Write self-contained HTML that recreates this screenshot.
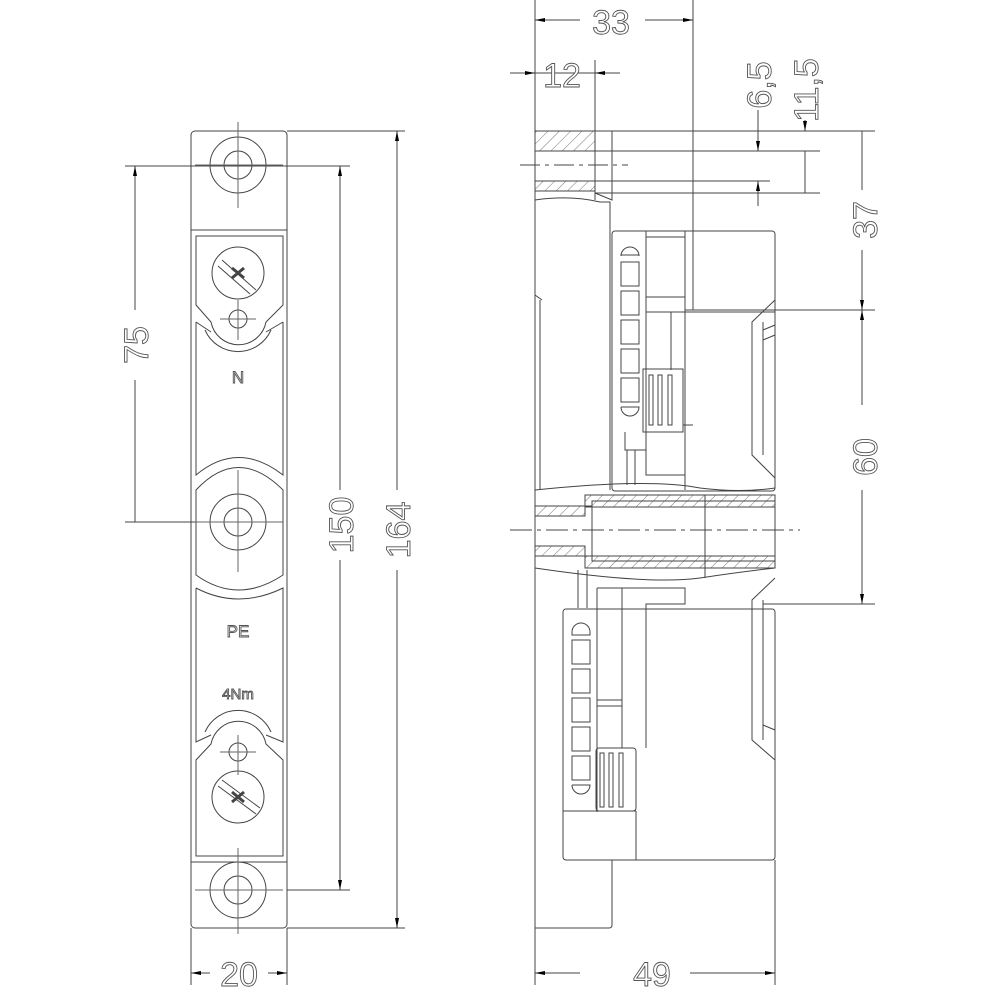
<!DOCTYPE html>
<html><head><meta charset="utf-8"><style>
html,body{margin:0;padding:0;background:#fff}
svg{display:block}
text{font-family:"Liberation Sans",sans-serif;fill:#fff;stroke:#555;stroke-width:0.9}
</style></head><body>
<svg width="1000" height="1000" viewBox="0 0 1000 1000" xmlns="http://www.w3.org/2000/svg">
<defs>
<pattern id="h" width="8" height="8" patternUnits="userSpaceOnUse" patternTransform="rotate(45)">
<line x1="0" y1="0" x2="0" y2="8" stroke="#555" stroke-width="0.8"/></pattern>
<marker id="a" markerWidth="10" markerHeight="6" refX="10" refY="3" orient="auto" markerUnits="userSpaceOnUse">
<path d="M0,1 L10,3 L0,5z" fill="#000"/></marker>
</defs>
<g fill="none" stroke="#444" stroke-width="1">
<!-- LEFT VIEW -->
<rect x="191" y="131" width="96" height="797" rx="4"/>
<line x1="191" y1="230" x2="287" y2="230"/>
<line x1="191" y1="862" x2="287" y2="862"/>
<path d="M196,236 L283,236 L283,305 L266,322 A28,28 0 0 1 211,322 L196,305 Z"/>
<path d="M205,330 A36,36 0 0 0 271,330"/>
<path d="M196,322 L211,332 M283,322 L266,332 M196,322 L196,475 Q238,440 283,475 L283,322"/>
<path d="M196,490 Q238,445 283,490 L283,575 Q238,605 196,575 Z"/>
<path d="M196,588 Q238,610 283,588 L283,742 L266,735 M196,588 L196,742 L211,735"/>
<path d="M205,732 A36,36 0 0 1 271,732"/>
<path d="M196,856 L283,856 L283,760 L266,744 A28,28 0 0 0 211,744 L196,760 Z"/>
<circle cx="238" cy="165" r="28"/><circle cx="238" cy="165" r="14"/>
<circle cx="238" cy="522" r="28"/><circle cx="238" cy="522" r="14"/>
<circle cx="238" cy="890" r="28"/><circle cx="238" cy="890" r="14"/>
<circle cx="238" cy="273" r="26"/><circle cx="238" cy="797" r="26"/>
<circle cx="238" cy="319" r="9"/><circle cx="238" cy="752" r="9"/>
<path d="M222,260 L256,290 M218,266 L250,294"/>
<path d="M218,786 L256,814 M222,780 L260,808"/>
<path d="M232,268 L244,278 M232,278 L244,268" stroke-width="3"/>
<path d="M232,792 L244,802 M232,802 L244,792" stroke-width="3"/>
<g stroke="#666">
<line x1="238" y1="122" x2="238" y2="208"/><line x1="195" y1="165" x2="283" y2="165"/>
<line x1="238" y1="470" x2="238" y2="572"/><line x1="195" y1="522" x2="283" y2="522"/>
<line x1="238" y1="848" x2="238" y2="934"/><line x1="195" y1="890" x2="283" y2="890"/>
<line x1="238" y1="300" x2="238" y2="340"/><line x1="220" y1="319" x2="256" y2="319"/>
<line x1="238" y1="735" x2="238" y2="775"/><line x1="220" y1="752" x2="256" y2="752"/>
</g>
<!-- dimension lines left -->
<line x1="125" y1="166" x2="350" y2="166"/>
<line x1="125" y1="522" x2="195" y2="522"/>
<line x1="287" y1="131" x2="405" y2="131"/>
<line x1="287" y1="928" x2="405" y2="928"/>
<line x1="287" y1="890" x2="350" y2="890"/>
<line x1="135" y1="522" x2="135" y2="380"/><line x1="135" y1="310" x2="135" y2="166" marker-end="url(#a)"/>
<line x1="340" y1="490" x2="340" y2="166" marker-end="url(#a)"/><line x1="340" y1="560" x2="340" y2="890" marker-end="url(#a)"/>
<line x1="397" y1="490" x2="397" y2="131" marker-end="url(#a)"/><line x1="397" y1="570" x2="397" y2="928" marker-end="url(#a)"/>
<line x1="191" y1="928" x2="191" y2="985"/><line x1="287" y1="928" x2="287" y2="985"/>
<line x1="210" y1="973" x2="191" y2="973" marker-end="url(#a)"/><line x1="268" y1="973" x2="287" y2="973" marker-end="url(#a)"/>

<!-- RIGHT VIEW -->
<line x1="535" y1="0" x2="535" y2="985"/>
<line x1="693" y1="0" x2="693" y2="310"/>
<line x1="595" y1="60" x2="595" y2="200"/>
<line x1="775" y1="860" x2="775" y2="985"/>
<line x1="580" y1="20" x2="535" y2="20" marker-end="url(#a)"/><line x1="645" y1="20" x2="693" y2="20" marker-end="url(#a)"/>
<line x1="510" y1="73" x2="535" y2="73" marker-end="url(#a)"/><line x1="620" y1="73" x2="595" y2="73" marker-end="url(#a)"/>
<line x1="535" y1="73" x2="595" y2="73"/>
<line x1="580" y1="973" x2="535" y2="973" marker-end="url(#a)"/><line x1="690" y1="973" x2="775" y2="973" marker-end="url(#a)"/>
<rect x="535" y="131" width="60" height="20" fill="url(#h)"/>
<rect x="535" y="181" width="60" height="10" fill="url(#h)"/>
<line x1="535" y1="131" x2="875" y2="131"/>
<line x1="535" y1="151" x2="770" y2="151"/>
<line x1="535" y1="181" x2="770" y2="181"/>
<line x1="595" y1="193" x2="770" y2="193"/>
<path d="M595,131 L612,131 L612,200 L595,193"/>
<line x1="520" y1="165" x2="628" y2="165" stroke-dasharray="20,5,4,5"/>
<line x1="758" y1="110" x2="758" y2="151" marker-end="url(#a)"/><line x1="758" y1="206" x2="758" y2="181" marker-end="url(#a)"/>
<line x1="805" y1="120" x2="805" y2="131" marker-end="url(#a)"/><line x1="805" y1="193" x2="805" y2="151"/>
<line x1="758" y1="151" x2="820" y2="151"/><line x1="758" y1="193" x2="820" y2="193"/>
<line x1="862" y1="131" x2="862" y2="190"/><line x1="862" y1="250" x2="862" y2="310" marker-end="url(#a)"/>
<line x1="862" y1="405" x2="862" y2="310" marker-end="url(#a)"/><line x1="862" y1="490" x2="862" y2="604" marker-end="url(#a)"/>
<line x1="685" y1="310" x2="875" y2="310"/><line x1="763" y1="604" x2="875" y2="604"/>
<path d="M535,200 Q570,195 600,202 L610,202 L610,490"/>
<line x1="540" y1="300" x2="540" y2="490"/>
<line x1="535" y1="295" x2="542" y2="300"/>
<rect x="612" y="231" width="163" height="260" rx="3"/>
<line x1="646" y1="231" x2="646" y2="468"/>
<line x1="685" y1="231" x2="685" y2="490"/>
<line x1="646" y1="237" x2="685" y2="237"/>
<line x1="646" y1="297" x2="685" y2="297"/>
<line x1="646" y1="312" x2="775" y2="312"/>
<line x1="671" y1="312" x2="671" y2="370"/>
<path d="M775,300 L752,322 L752,455 L775,478"/>
<path d="M763,322 L763,455 M763,330 L775,325 M763,340 L775,335"/>
<rect x="643" y="369" width="40" height="63"/>
<line x1="683" y1="425" x2="693" y2="425"/>
<rect x="649" y="375" width="4" height="50"/><rect x="658" y="375" width="4" height="50"/><rect x="668" y="375" width="4" height="50"/>
<path d="M621,256 A9,9 0 0 1 639,256 L639,255 L621,255 Z"/>
<rect x="621" y="262" width="18" height="24"/><rect x="621" y="291" width="18" height="24"/>
<rect x="621" y="320" width="18" height="24"/><rect x="621" y="349" width="18" height="24"/>
<rect x="621" y="378" width="18" height="24"/>
<path d="M621,407 L639,407 A9,9 0 0 1 621,407"/>
<path d="M625,432 L625,450 L646,450 L646,475 L685,475 M627,450 L627,485 M635,450 L635,485 M646,432 L646,445"/>
<path d="M535,490 Q650,478 700,488 Q740,493 775,488" />
<rect x="585" y="495" width="190" height="12" fill="url(#h)"/>
<rect x="585" y="556" width="190" height="12" fill="url(#h)"/>
<rect x="535" y="506" width="50" height="10" fill="url(#h)"/>
<rect x="535" y="546" width="50" height="10" fill="url(#h)"/>
<rect x="592" y="501" width="183" height="60"/>
<line x1="705" y1="495" x2="705" y2="578"/>
<line x1="535" y1="506" x2="592" y2="506"/><line x1="535" y1="556" x2="592" y2="556"/>
<line x1="510" y1="530" x2="800" y2="530" stroke-dasharray="22,5,4,5"/>
<path d="M535,568 Q650,585 700,578 Q740,572 775,568"/>
<path d="M775,578 L752,600 L752,740 L775,760"/>
<path d="M763,600 L763,740 M763,725 L775,730"/>
<rect x="563" y="609" width="212" height="251" rx="3"/>
<path d="M597,588 L685,588 L685,604 L646,604 L646,748"/>
<line x1="597" y1="588" x2="597" y2="812"/>
<line x1="622" y1="588" x2="622" y2="748"/>
<line x1="597" y1="700" x2="622" y2="700"/><line x1="597" y1="706" x2="622" y2="706"/>
<line x1="578" y1="570" x2="578" y2="608"/><line x1="587" y1="570" x2="587" y2="608"/>
<rect x="596" y="748" width="40" height="63" rx="3"/>
<rect x="600" y="753" width="4" height="54"/><rect x="609" y="753" width="4" height="54"/><rect x="619" y="753" width="4" height="54"/>
<line x1="636" y1="811" x2="636" y2="860"/>
<path d="M572,632 A9,9 0 0 1 590,632 L590,635 L572,635 Z"/>
<rect x="572" y="640" width="18" height="24"/><rect x="572" y="669" width="18" height="24"/>
<rect x="572" y="698" width="18" height="24"/><rect x="572" y="727" width="18" height="24"/>
<rect x="572" y="756" width="18" height="24"/>
<path d="M572,785 L590,785 A9,9 0 0 1 572,785"/>
<line x1="563" y1="811" x2="636" y2="811"/>
<path d="M612,860 L612,925 Q612,928 609,928 L535,928"/>
</g>
<g font-size="34">
<text x="611" y="34" text-anchor="middle">33</text>
<text x="562" y="87" text-anchor="middle">12</text>
<text x="239" y="986" text-anchor="middle">20</text>
<text x="652" y="986" text-anchor="middle">49</text>
<text transform="translate(148,345) rotate(-90)" text-anchor="middle">75</text>
<text transform="translate(353,525) rotate(-90)" text-anchor="middle">150</text>
<text transform="translate(410,530) rotate(-90)" text-anchor="middle">164</text>
<text transform="translate(877,220) rotate(-90)" text-anchor="middle">37</text>
<text transform="translate(877,457) rotate(-90)" text-anchor="middle">60</text>
<text transform="translate(771,85) rotate(-90)" text-anchor="middle">6,5</text>
<text transform="translate(818,90) rotate(-90)" text-anchor="middle">11,5</text>
</g>
<g font-size="17">
<text x="238" y="383" text-anchor="middle">N</text>
<text x="238" y="637" text-anchor="middle">PE</text>
<text x="238" y="699" text-anchor="middle" font-size="15">4Nm</text>
</g>
</svg>
</body></html>
